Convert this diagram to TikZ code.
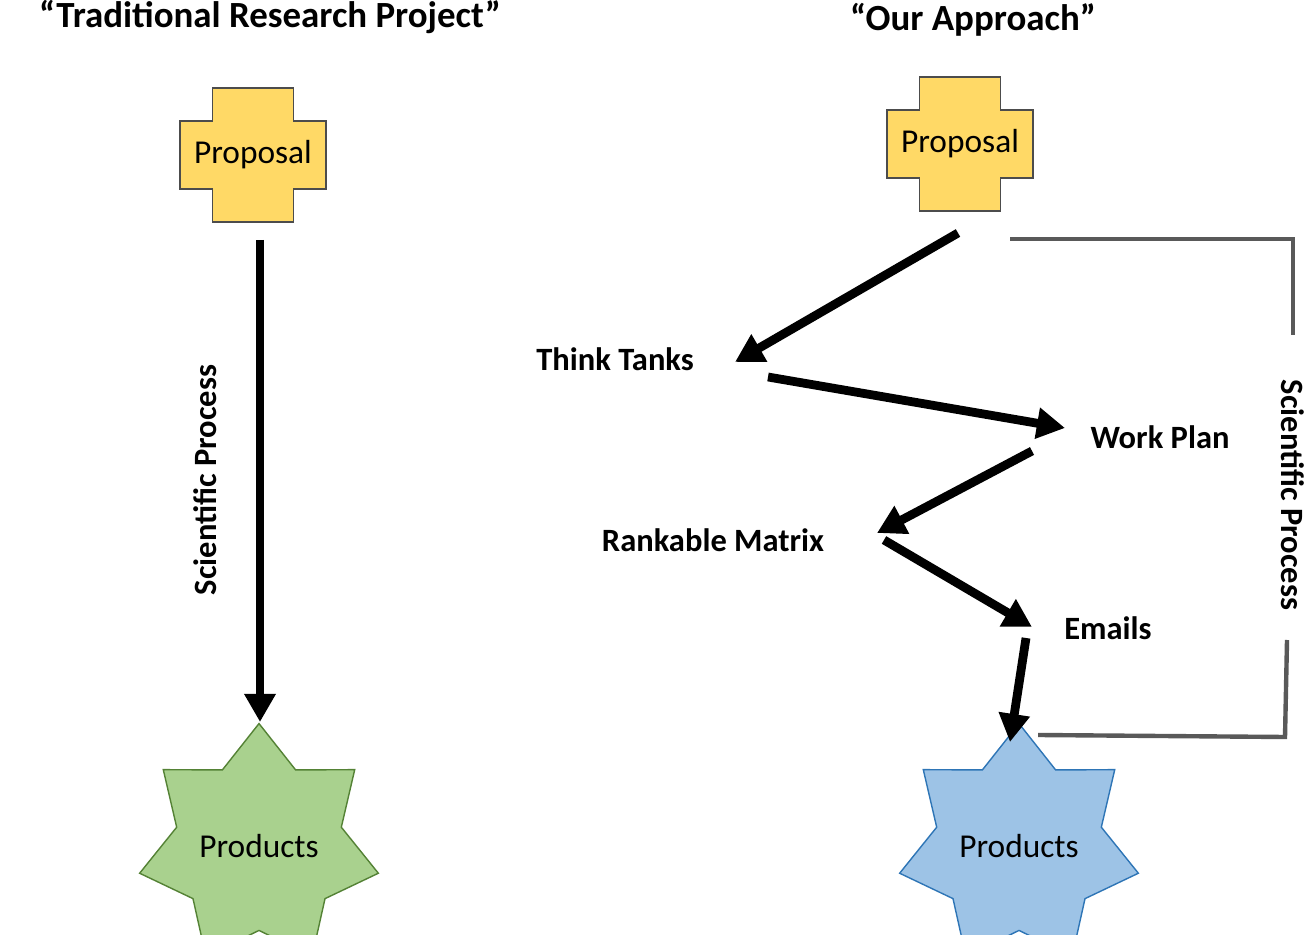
\documentclass[tikz,border=0pt]{standalone}
\usepackage{fontspec}
\setmainfont{Carlito}
\usetikzlibrary{arrows.meta,shapes.geometric,calc}
\definecolor{propfill}{HTML}{FFD966}
\definecolor{greenfill}{HTML}{A9D18E}
\definecolor{greenline}{HTML}{548235}
\definecolor{bluefill}{HTML}{9DC3E6}
\definecolor{blueline}{HTML}{2E75B6}
\definecolor{bracketgray}{HTML}{595959}
\tikzset{
  title/.style={font=\fontsize{21}{25}\selectfont\bfseries},
  stage/.style={font=\fontsize{18.5}{22}\selectfont\bfseries},
  flow/.style={line width=5pt, -{Triangle[length=16pt,width=17pt]}},
  product/.style={star, star points=7, star point ratio=1.45, minimum size=2.7cm,
    inner sep=0pt, font=\fontsize{19}{23}\selectfont},
  proposal/.style={minimum width=2.92cm, minimum height=1.36cm, inner sep=0pt,
    font=\fontsize{19}{23}\selectfont},
  bracket/.style={draw=bracketgray, line width=2.5pt}
}
\newcommand{\crossat}[1]{%
  \draw[fill=propfill, draw=black!70, thick]
    ($(#1)+(-0.81,1.34)$) -- ($(#1)+(0.81,1.34)$) -- ($(#1)+(0.81,0.68)$) --
    ($(#1)+(1.46,0.68)$) -- ($(#1)+(1.46,-0.68)$) -- ($(#1)+(0.81,-0.68)$) --
    ($(#1)+(0.81,-1.34)$) -- ($(#1)+(-0.81,-1.34)$) -- ($(#1)+(-0.81,-0.68)$) --
    ($(#1)+(-1.46,-0.68)$) -- ($(#1)+(-1.46,0.68)$) -- ($(#1)+(-0.81,0.68)$) -- cycle;}
\begin{document}
\begin{tikzpicture}
\useasboundingbox (0,0) rectangle (26.16,18.68);

% left column
\node[title] (ttrad) at (5.4,18.34) {“Traditional Research Project”};
\crossat{5.06,15.58}
\node[proposal] (propL) at (5.06,15.58) {Proposal};
\node[product, fill=greenfill, draw=greenline, thick] (prodL) at (5.18,1.76) {Products};
\coordinate (startL) at (5.2,13.88);
\coordinate (endL) at (5.2,4.24);
\draw[flow] (startL) -- (endL);
\node[stage, rotate=90] (sciL) at (4.1,9.08) {Scientific Process};

% right column
\node[title] (tours) at (19.46,18.28) {“Our Approach”};
\crossat{19.2,15.8}
\node[proposal] (propR) at (19.2,15.8) {Proposal};
\node[product, fill=bluefill, draw=blueline, thick] (prodR) at (20.38,1.76) {Products};

\node[stage] (think) at (12.3,11.5) {Think Tanks};
\node[stage] (work) at (23.2,9.94) {Work Plan};
\node[stage] (rank) at (14.26,7.88) {Rankable Matrix};
\node[stage] (mail) at (22.16,6.12) {Emails};

\coordinate (a1) at (19.16,14.02);
\coordinate (a2) at (14.7,11.44);
\coordinate (b1) at (15.36,11.14);
\coordinate (b2) at (21.3,10.12);
\coordinate (c1) at (20.64,9.66);
\coordinate (c2) at (17.54,8.02);
\coordinate (d1) at (17.68,7.88);
\coordinate (d2) at (20.64,6.14);
\coordinate (e1) at (20.52,5.92);
\coordinate (e2) at (20.2,3.84);
\draw[flow] (a1) -- (a2);
\draw[flow] (b1) -- (b2);
\draw[flow] (c1) -- (c2);
\draw[flow] (d1) -- (d2);
\draw[flow] (e1) -- (e2);

% bracket
\coordinate (g1) at (20.2,13.9);
\coordinate (g2) at (25.86,13.9);
\coordinate (g3) at (25.86,11.98);
\coordinate (g4) at (25.74,5.88);
\coordinate (g5) at (25.7,3.94);
\coordinate (g6) at (20.76,3.98);
\draw[bracket] (g1) -- (g2) -- (g3);
\draw[bracket] (g4) -- (g5) -- (g6);
\node[stage, rotate=-90] (sciR) at (25.86,8.78) {Scientific Process};
\end{tikzpicture}
\end{document}
